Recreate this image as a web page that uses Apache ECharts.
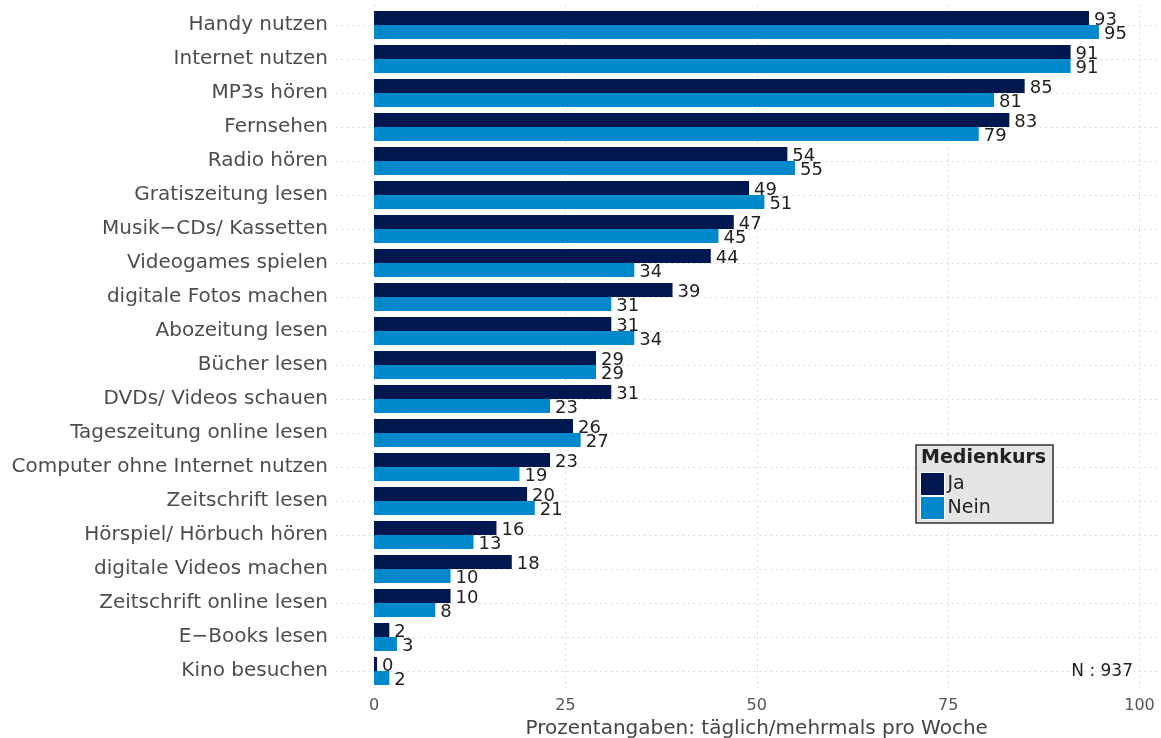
<!DOCTYPE html>
<html>
<head>
<meta charset="utf-8">
<script src="https://cdn.jsdelivr.net/npm/echarts@6/dist/echarts.min.js"></script>
<style>
    html, body { margin: 0; padding: 0; background: #fff; }
    #chart_div { width: 1161px; height: 738px; }
</style>
</head>
<body>
<div id="chart_div"></div>
<script>
// Mediennutzung, Medienkurs Ja / Nein
var categories = ['Handy nutzen', 'Internet nutzen', 'MP3s hören', 'Fernsehen', 'Radio hören',
    'Gratiszeitung lesen', 'Musik−CDs/ Kassetten', 'Videogames spielen', 'digitale Fotos machen',
    'Abozeitung lesen', 'Bücher lesen', 'DVDs/ Videos schauen', 'Tageszeitung online lesen',
    'Computer ohne Internet nutzen', 'Zeitschrift lesen', 'Hörspiel/ Hörbuch hören',
    'digitale Videos machen', 'Zeitschrift online lesen', 'E−Books lesen', 'Kino besuchen'];
var ja_values = [93.4, 91, 85, 83, 54, 49, 47, 44, 39, 31, 29, 31, 26, 23, 20, 16, 18, 10, 2, 0.4];
var nein_values = [94.7, 91, 81, 79, 55, 51, 45, 34, 31, 34, 29, 23, 27, 19, 21, 13, 10, 8, 3, 2];
var x_ticks = [0, 25, 50, 75, 100];
var series_names = ['Ja', 'Nein'];

var font = 'DejaVu Sans';
var dots = {color: '#d2d2d2', width: 1, type: [1.5, 4]};

var myChart = echarts.init(document.getElementById('chart_div'));

var label_style = {
    show: true,
    position: 'right',
    distance: 5,
    offset: [0, 2],
    fontFamily: font,
    fontSize: 18,
    color: '#222',
    formatter: function (p) { return Math.round(p.value); }
};

var option = {
    animation: false,
    textStyle: {fontFamily: font},
    grid: [
        // bars
        {left: 374, right: 21.5, top: 8, height: 680, outerBoundsMode: 'none'},
        // horizontal dotted lines through the row centres
        {left: 336, right: 0, top: 25, height: 646, outerBoundsMode: 'none'},
        // vertical dotted lines + x labels
        {left: 374, right: 21.5, top: 5, bottom: 47, outerBoundsMode: 'none'}
    ],
    xAxis: [
        {gridIndex: 0, type: 'value', min: 0, max: 100, show: false},
        {gridIndex: 1, type: 'value', min: 0, max: 1, show: false},
        {
            gridIndex: 2, type: 'value',
            min: x_ticks[0], max: x_ticks[x_ticks.length - 1], interval: 25,
            axisLine: {show: false},
            axisTick: {show: false},
            axisLabel: {fontFamily: font, fontSize: 16, color: '#555', margin: 7},
            splitLine: {show: true, lineStyle: dots},
            name: 'Prozentangaben: täglich/mehrmals pro Woche',
            nameLocation: 'middle',
            nameGap: 20,
            nameTextStyle: {fontFamily: font, fontSize: 20, color: '#444'}
        }
    ],
    yAxis: [
        {
            gridIndex: 0, type: 'category', data: categories, inverse: true,
            axisLine: {show: false},
            axisTick: {show: false},
            splitLine: {show: false},
            axisLabel: {fontFamily: font, fontSize: 20, color: '#4d4d4d', margin: 46}
        },
        {
            gridIndex: 1, type: 'value', min: 0, max: categories.length - 1, interval: 1,
            axisLine: {show: false},
            axisTick: {show: false},
            axisLabel: {show: false},
            splitLine: {show: true, lineStyle: dots}
        },
        {gridIndex: 2, type: 'value', show: false}
    ],
    legend: {
        data: series_names,
        orient: 'vertical',
        left: 920,
        top: 472,
        padding: 0,
        itemGap: 0,
        itemWidth: 24,
        itemHeight: 23,
        icon: 'rect',
        itemStyle: {borderColor: '#fff', borderWidth: 1},
        textStyle: {fontFamily: font, fontSize: 19, color: '#222', padding: [0, 0, 0, -2]},
        z: 10
    },
    graphic: [
        {
            type: 'rect', z: 1,
            shape: {x: 916, y: 445, width: 137, height: 78},
            style: {fill: '#e5e5e5', stroke: '#333', lineWidth: 1.5}
        },
        {
            type: 'text', z: 2, left: 921, top: 449,
            style: {text: 'Medienkurs', font: 'bold 19px "DejaVu Sans"', fill: '#222'}
        },
        {
            type: 'text', z: 2, right: 28, top: 663,
            style: {text: 'N : 937', font: '17px "DejaVu Sans"', fill: '#222'}
        }
    ],
    series: [
        {
            name: series_names[0], type: 'bar', xAxisIndex: 0, yAxisIndex: 0,
            data: ja_values,
            barGap: '0%',
            barCategoryGap: '17.6%',
            itemStyle: {color: '#00174F'},
            label: label_style
        },
        {
            name: series_names[1], type: 'bar', xAxisIndex: 0, yAxisIndex: 0,
            data: nein_values,
            barGap: '0%',
            barCategoryGap: '17.6%',
            itemStyle: {color: '#0088CC'},
            label: label_style
        }
    ]
};

myChart.setOption(option);
</script>
</body>
</html>
